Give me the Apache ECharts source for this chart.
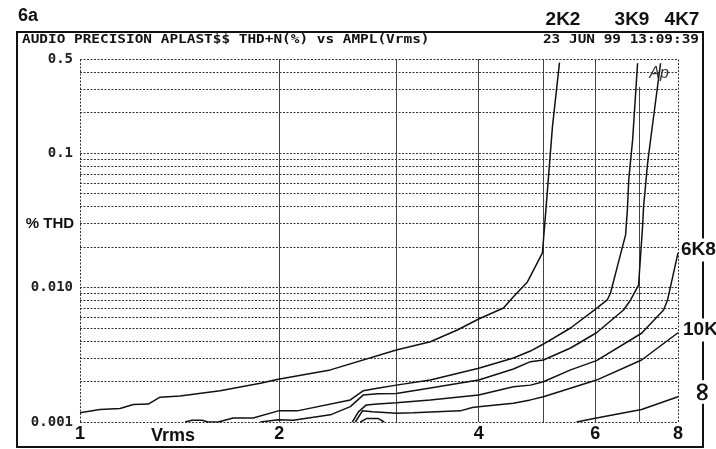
<!DOCTYPE html>
<html>
<head>
<meta charset="utf-8">
<script src="https://cdn.jsdelivr.net/npm/echarts@6/dist/echarts.min.js"></script>
<style>
  html, body { margin: 0; padding: 0; background: #fff; }
  #chart { width: 716px; height: 449px; }
</style>
</head>
<body>
<div id="chart"></div>
<script>
// amplitude (Vrms) and THD+N (%), one pair of arrays per load
const v2K2 = [1.0, 1.072, 1.149, 1.204, 1.268, 1.321, 1.416, 1.628, 1.872, 1.993, 2.388, 3.004, 3.381, 3.714, 4.0, 4.36, 4.514, 4.739, 4.993, 5.081, 5.17, 5.298];
const thd2K2 = [0.00117, 0.00124, 0.00126, 0.00135, 0.00136, 0.00153, 0.00156, 0.00171, 0.00194, 0.00208, 0.00244, 0.00343, 0.00395, 0.00483, 0.00583, 0.00704, 0.00854, 0.011, 0.0181, 0.053, 0.157, 0.47];

const v3K9 = [1.441, 1.476, 1.529, 1.561, 1.617, 1.703, 1.826, 1.993, 2.128, 2.56, 2.679, 2.812, 3.004, 3.381, 4.0, 4.514, 4.789, 5.01, 5.506, 6.026, 6.254, 6.327, 6.506, 6.667, 6.713, 6.74, 6.832, 6.951];
const thd3K9 = [0.001, 0.00103, 0.00103, 0.001, 0.001, 0.00107, 0.00107, 0.00121, 0.00121, 0.00146, 0.00171, 0.00178, 0.00188, 0.00205, 0.00251, 0.00299, 0.00337, 0.0038, 0.005, 0.007, 0.00808, 0.0091, 0.0155, 0.0246, 0.0397, 0.063, 0.125, 0.465];

const v4K7 = [1.872, 1.993, 2.099, 2.388, 2.56, 2.679, 2.812, 3.004, 3.381, 4.0, 4.514, 4.789, 5.01, 5.506, 6.026, 6.62, 6.784, 6.975, 7.072, 7.097, 7.197, 7.272, 7.529];
const thd4K7 = [0.001, 0.00104, 0.00103, 0.00113, 0.0013, 0.00159, 0.00162, 0.00163, 0.00179, 0.00205, 0.00248, 0.00281, 0.00289, 0.00355, 0.00461, 0.0068, 0.00808, 0.0104, 0.0283, 0.0397, 0.0838, 0.125, 0.465];

const v6K8 = [2.578, 2.633, 2.707, 2.812, 3.004, 3.381, 4.0, 4.514, 4.789, 5.01, 5.506, 6.026, 7.048, 7.609, 7.715, 8.0];
const thd6K8 = [0.001, 0.00119, 0.00134, 0.00136, 0.00139, 0.00146, 0.00159, 0.00183, 0.00188, 0.00199, 0.00244, 0.00286, 0.00457, 0.0068, 0.00808, 0.0181];

const v10K = [2.605, 2.67, 2.764, 3.004, 3.187, 3.753, 3.913, 4.0, 4.514, 4.789, 5.01, 6.026, 7.048, 8.0];
const thd10K = [0.001, 0.00121, 0.00119, 0.00116, 0.00117, 0.00121, 0.00128, 0.0013, 0.00138, 0.00146, 0.00154, 0.00205, 0.00289, 0.00461];

const vInf = [2.651, 2.707, 2.822, 2.881, 4.0, 5.622, 6.026, 7.048, 8.0];
const thdInf = [0.001, 0.00106, 0.00106, 0.001, '-', 0.001, 0.00107, 0.00124, 0.00154];

// grid lines and tick labels
const xGridValues = [1, 2, 3, 4, 5, 6, 7, 8];
const xTickValues = [1, 2, 4, 6, 8];
const xTickLabels = ['1', '2', '4', '6', '8'];
const yGridValues = [0.001, 0.002, 0.003, 0.004, 0.005, 0.006, 0.007, 0.008, 0.009,
  0.01, 0.02, 0.03, 0.04, 0.05, 0.06, 0.07, 0.08, 0.09, 0.1, 0.2, 0.3, 0.4, 0.5];
const yTickValues = [0.5, 0.1, 0.01, 0.001];
const yTickLabels = ['0.5', '0.1', '0.010', '0.001'];

const chart = echarts.init(document.getElementById('chart'));

const zip = (xs, ys) => xs.map((x, i) => [x, ys[i]]);

const curveStyle = { color: '#111', width: 1.5 };
const dotted = { color: '#333', width: 1, type: [2, 1.5] };
const solid = { color: '#444', width: 1, type: 'solid' };

// dotted horizontals, y tick labels on the left ends
const gridLines = yGridValues.map((v) => {
  const k = yTickValues.indexOf(v);
  return {
    yAxis: v,
    lineStyle: dotted,
    label: k < 0 ? { show: false } : {
      show: true, position: 'start', distance: 7, formatter: yTickLabels[k],
      fontFamily: 'DejaVu Sans Mono', fontWeight: 'bold', fontSize: 14, color: '#222'
    }
  };
});

xGridValues.forEach((v) => {
  const k = xTickValues.indexOf(v);
  const label = k < 0 ? { show: false } : {
    show: true, position: 'start', distance: 3, formatter: xTickLabels[k],
    fontFamily: 'Liberation Sans', fontWeight: 'bold', fontSize: 18, color: '#111'
  };
  const style = (v === 1 || v === 8) ? dotted : solid;
  if (v === 7) {
    // this one stops under the Ap logo
    gridLines.push([{ coord: [v, 0.001], lineStyle: style, label }, { coord: [v, 0.31] }]);
  } else {
    gridLines.push({ xAxis: v, lineStyle: style, label });
  }
});

const mkSeries = (name, xs, ys) => ({
  name,
  type: 'line',
  data: zip(xs, ys),
  showSymbol: false,
  lineStyle: curveStyle,
  connectNulls: false,
  animation: false,
  z: 3
});

const series = [
  mkSeries('2K2', v2K2, thd2K2),
  mkSeries('3K9', v3K9, thd3K9),
  mkSeries('4K7', v4K7, thd4K7),
  mkSeries('6K8', v6K8, thd6K8),
  mkSeries('10K', v10K, thd10K),
  mkSeries('inf', vInf, thdInf)
];
series[0].markLine = {
  silent: true,
  animation: false,
  precision: 5,
  symbol: ['none', 'none'],
  z: 1,
  data: gridLines
};

const hdrFont = 'bold 12px "DejaVu Sans Mono"';
const bigFont = 'bold 19px "Liberation Sans", Arial, sans-serif';

chart.setOption({
  backgroundColor: '#fff',
  animation: false,
  grid: { left: 80, top: 59, width: 598, height: 363, containLabel: false },
  xAxis: {
    type: 'log', logBase: 10, min: 1, max: 8,
    axisLine: { show: false }, axisTick: { show: false },
    axisLabel: { show: false }, splitLine: { show: false }
  },
  yAxis: {
    type: 'log', logBase: 10, min: 0.001, max: 0.5,
    axisLine: { show: false }, axisTick: { show: false },
    axisLabel: { show: false }, splitLine: { show: false }
  },
  series,
  graphic: [
    { type: 'rect', shape: { x: 17, y: 32, width: 686, height: 415 },
      style: { fill: 'none', stroke: '#111', lineWidth: 2 }, z: 0 },
    { type: 'text', x: 18, y: 16, style: { text: '6a', font: 'bold 18px "Liberation Sans", Arial', fill: '#111', verticalAlign: 'middle' } },
    { type: 'text', x: 22, y: 40, scaleX: 1.2,
      style: { text: 'AUDIO PRECISION APLAST$$ THD+N(%) vs AMPL(Vrms)', font: hdrFont, fill: '#111', verticalAlign: 'middle' } },
    { type: 'text', x: 699, y: 40, scaleX: 1.2,
      style: { text: '23 JUN 99 13:09:39', font: hdrFont, fill: '#111', align: 'right', verticalAlign: 'middle' } },
    { type: 'text', x: 50, y: 224, style: { text: '% THD', font: 'bold 15px "Liberation Sans", Arial', fill: '#111', align: 'center', verticalAlign: 'middle' } },
    { type: 'text', x: 173, y: 436, style: { text: 'Vrms', font: 'bold 18px "Liberation Sans", Arial', fill: '#111', align: 'center', verticalAlign: 'middle' } },
    { type: 'text', x: 659, y: 74, style: { text: 'Ap', font: 'italic 16px "Liberation Sans", Arial', fill: '#333', align: 'center', verticalAlign: 'middle' } },
    { type: 'text', x: 563, y: 20, style: { text: '2K2', font: bigFont, fill: '#111', align: 'center', verticalAlign: 'middle' } },
    { type: 'text', x: 632, y: 20, style: { text: '3K9', font: bigFont, fill: '#111', align: 'center', verticalAlign: 'middle' } },
    { type: 'text', x: 682, y: 20, style: { text: '4K7', font: bigFont, fill: '#111', align: 'center', verticalAlign: 'middle' } },
    { type: 'text', x: 680, y: 250, z: 10, style: { text: '6K8', font: bigFont, fill: '#111', verticalAlign: 'middle', backgroundColor: '#fff', padding: [2, 2, 2, 1] } },
    { type: 'text', x: 682, y: 330, z: 10, style: { text: '10K', font: bigFont, fill: '#111', verticalAlign: 'middle', backgroundColor: '#fff', padding: [2, 2, 2, 1] } },
    { type: 'text', x: 703, y: 392, rotation: Math.PI / 2, z: 10,
      style: { text: '∞', font: 'bold 26px "DejaVu Sans"', fill: '#111', align: 'center', verticalAlign: 'middle', backgroundColor: '#fff', padding: [0, 1, 0, 1] } }
  ]
});
</script>
</body>
</html>
